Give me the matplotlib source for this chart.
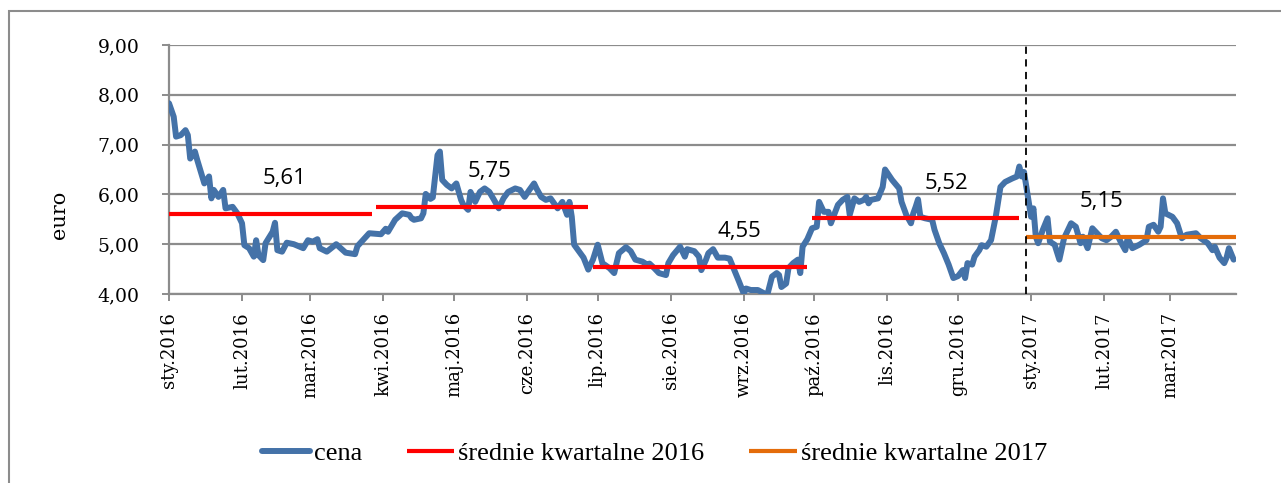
import matplotlib
matplotlib.use("Agg")
import matplotlib.pyplot as plt
import matplotlib.dates as mdates
from matplotlib.patches import Rectangle
import pandas as pd

# ---------------- data ----------------
dni = [0, 2, 3, 5, 7, 8, 9, 11, 12, 15, 17, 18, 19, 21, 23, 24, 27, 29, 31, 32,
       34, 36, 37, 38, 40, 41, 44, 45, 46, 48, 50, 53, 57, 59, 61, 63, 64, 67, 71, 75,
       79, 80, 85, 90, 92, 93, 96, 99, 102, 103, 104, 107, 108, 109, 111, 112, 114, 115, 116, 118,
       120, 122, 124, 125, 127, 128, 130, 132, 134, 136, 138, 140, 142, 144, 147, 149, 151, 153, 155, 156,
       158, 160, 162, 165, 167, 169, 170, 171, 172, 174, 176, 178, 180, 182, 184, 187, 189, 191, 194, 196,
       198, 201, 203, 204, 206, 208, 211, 212, 214, 217, 219, 220, 223, 225, 226, 228, 229, 231, 233, 236,
       238, 240, 242, 244, 245, 247, 250, 252, 254, 256, 258, 259, 260, 262, 263, 265, 267, 268, 269, 271,
       273, 275, 276, 278, 280, 281, 284, 286, 288, 289, 291, 293, 295, 296, 297, 298, 301, 303, 304, 307,
       310, 311, 313, 315, 316, 317, 318, 319, 321, 324, 325, 327, 329, 331, 333, 335, 337, 338, 339, 341,
       342, 344, 345, 347, 349, 351, 353, 355, 358, 360, 361, 362, 363, 364, 366, 367, 368, 369, 371, 373,
       374, 376, 378, 380, 383, 385, 387, 388, 390, 392, 394, 396, 398, 400, 402, 404, 406, 407, 409, 412,
       414, 415, 416, 418, 420, 421, 422, 423, 426, 428, 430, 432, 436, 438, 441, 443, 444, 446, 448, 449,
       450, 452]
cena = [7.83, 7.56, 7.16, 7.19, 7.29, 7.19, 6.72, 6.86, 6.69, 6.22, 6.36, 5.92, 6.09, 5.95, 6.09, 5.72, 5.75, 5.62, 5.42, 4.98,
        4.92, 4.75, 5.08, 4.78, 4.68, 5.02, 5.25, 5.43, 4.88, 4.85, 5.03, 5.00, 4.92, 5.08, 5.05, 5.10, 4.92, 4.85, 5.00, 4.83,
        4.80, 4.96, 5.22, 5.20, 5.31, 5.25, 5.49, 5.62, 5.59, 5.52, 5.49, 5.52, 5.62, 6.01, 5.91, 5.94, 6.79, 6.86, 6.29, 6.19,
        6.12, 6.22, 5.89, 5.79, 5.69, 6.05, 5.85, 6.05, 6.12, 6.05, 5.89, 5.72, 5.92, 6.05, 6.12, 6.09, 5.95, 6.09, 6.22, 6.12,
        5.95, 5.89, 5.92, 5.72, 5.85, 5.59, 5.85, 5.55, 4.99, 4.86, 4.73, 4.49, 4.69, 4.99, 4.62, 4.52, 4.42, 4.82, 4.94, 4.86,
        4.69, 4.65, 4.59, 4.61, 4.52, 4.42, 4.38, 4.62, 4.78, 4.95, 4.75, 4.90, 4.86, 4.75, 4.48, 4.69, 4.82, 4.90, 4.73, 4.73,
        4.71, 4.48, 4.25, 4.01, 4.11, 4.08, 4.08, 4.03, 3.98, 4.35, 4.42, 4.38, 4.14, 4.21, 4.52, 4.62, 4.69, 4.42, 4.95, 5.10,
        5.32, 5.35, 5.85, 5.65, 5.65, 5.42, 5.79, 5.89, 5.95, 5.59, 5.92, 5.85, 5.89, 5.95, 5.82, 5.89, 5.92, 6.15, 6.50, 6.29,
        6.12, 5.85, 5.59, 5.42, 5.62, 5.75, 5.90, 5.55, 5.52, 5.49, 5.29, 5.02, 4.82, 4.59, 4.32, 4.36, 4.48, 4.32, 4.62, 4.59,
        4.75, 4.88, 4.98, 4.95, 5.08, 5.55, 6.15, 6.25, 6.32, 6.36, 6.56, 6.36, 6.45, 6.15, 5.55, 5.72, 5.15, 5.02, 5.29, 5.52,
        5.05, 4.99, 4.69, 5.12, 5.42, 5.35, 5.02, 5.15, 4.92, 5.32, 5.22, 5.12, 5.08, 5.15, 5.25, 5.05, 4.88, 5.12, 4.92, 4.99,
        5.05, 5.08, 5.35, 5.39, 5.25, 5.35, 5.92, 5.62, 5.55, 5.42, 5.12, 5.19, 5.22, 5.12, 5.02, 4.88, 4.95, 4.73, 4.62, 4.73,
        4.92, 4.69]

kw2016_start = ['2016-01-01', '2016-03-29', '2016-06-29', '2016-09-30']
kw2016_end = ['2016-03-27', '2016-06-27', '2016-09-28', '2016-12-27']
kw2016_mean = [5.61, 5.75, 4.55, 5.52]
kw2017_start = ['2016-12-30']
kw2017_end = ['2017-03-29']
kw2017_mean = [5.15]

miesiace = ['sty', 'lut', 'mar', 'kwi', 'maj', 'cze', 'lip', 'sie', 'wrz', 'paź', 'lis', 'gru']
granica_roku = '2016-12-30'

# ---------------- figure ----------------
start = pd.Timestamp('2016-01-01')
daty = start + pd.to_timedelta(dni, unit='D')

W, H = 1281, 483
fig = plt.figure(figsize=(W / 100, H / 100), dpi=100)
ax = fig.add_axes([169 / W, 1 - 294 / H, (1236 - 169) / W, (294 - 45) / H])

GRID = '#8c8c8c'
BLUE = '#4472a8'
RED = '#ff0000'
ORANGE = '#e46c0a'

# outer frame
fig.patches.append(Rectangle((9 / W, -0.05), 1.2, 1 - 10.7 / H + 0.05, transform=fig.transFigure,
                             fill=False, edgecolor='#8c8c8c', lw=1.5, zorder=0))

ax.plot(daty, cena, color=BLUE, lw=4.3, solid_joinstyle='round', solid_capstyle='round',
        zorder=3, label='cena')

for i, (s, e, m) in enumerate(zip(kw2016_start, kw2016_end, kw2016_mean)):
    ax.plot([pd.Timestamp(s), pd.Timestamp(e)], [m, m], color=RED, lw=3.0,
            solid_capstyle='butt', zorder=4, label='średnie kwartalne 2016' if i == 0 else None)
for i, (s, e, m) in enumerate(zip(kw2017_start, kw2017_end, kw2017_mean)):
    ax.plot([pd.Timestamp(s), pd.Timestamp(e)], [m, m], color=ORANGE, lw=3.0,
            solid_capstyle='butt', zorder=4, label='średnie kwartalne 2017' if i == 0 else None)

ax.axvline(pd.Timestamp(granica_roku), color='black', lw=1.3, ls=(0, (4, 3)), zorder=5)

# labels of quarterly means
etykiety_x = ['2016-02-19', '2016-05-16', '2016-08-30', '2016-11-26', '2017-01-31']
for d, m in zip(etykiety_x, kw2016_mean + kw2017_mean):
    ax.text(pd.Timestamp(d), m + 0.70, f'{m:.2f}'.replace('.', ','), ha='center', va='center',
            fontsize=16, family='Open Sans', color='black', zorder=6)

ax.set_ylim(4, 9)
ax.set_xlim(start, pd.Timestamp('2017-03-29'))
ax.set_yticks([4, 5, 6, 7, 8, 9])
ax.set_yticklabels([f'{v:.2f}'.replace('.', ',') for v in [4, 5, 6, 7, 8, 9]],
                   family='DejaVu Serif', fontsize=13.5)

ticks = pd.date_range('2016-01-01', '2017-03-01', freq='MS')
ax.set_xticks(ticks)
ax.set_xticklabels([f'{miesiace[t.month - 1]}.{t.year}' for t in ticks], rotation=90,
                   family='DejaVu Serif', fontsize=13)

ax.grid(axis='y', color=GRID, lw=1.6)
ax.set_axisbelow(True)
for sp in ['top', 'right']:
    ax.spines[sp].set_visible(False)
for sp in ['left', 'bottom']:
    ax.spines[sp].set_color(GRID)
    ax.spines[sp].set_linewidth(1.6)
ax.tick_params(axis='y', length=5, width=1.4, color=GRID, pad=16)
ax.tick_params(axis='x', length=5, width=1.4, color=GRID, pad=8)

fig.text(60 / W, 1 - 215 / H, 'euro', rotation=90, ha='center', va='center',
         family='DejaVu Serif', fontsize=15)

leg = fig.legend(loc='center', bbox_to_anchor=(0.511, 1 - 453 / H), ncol=3, frameon=False,
                 prop={'family': 'Liberation Serif', 'size': 19}, handlelength=1.8,
                 handletextpad=0.15, columnspacing=1.7)

fig.savefig('out.png', dpi=100)
